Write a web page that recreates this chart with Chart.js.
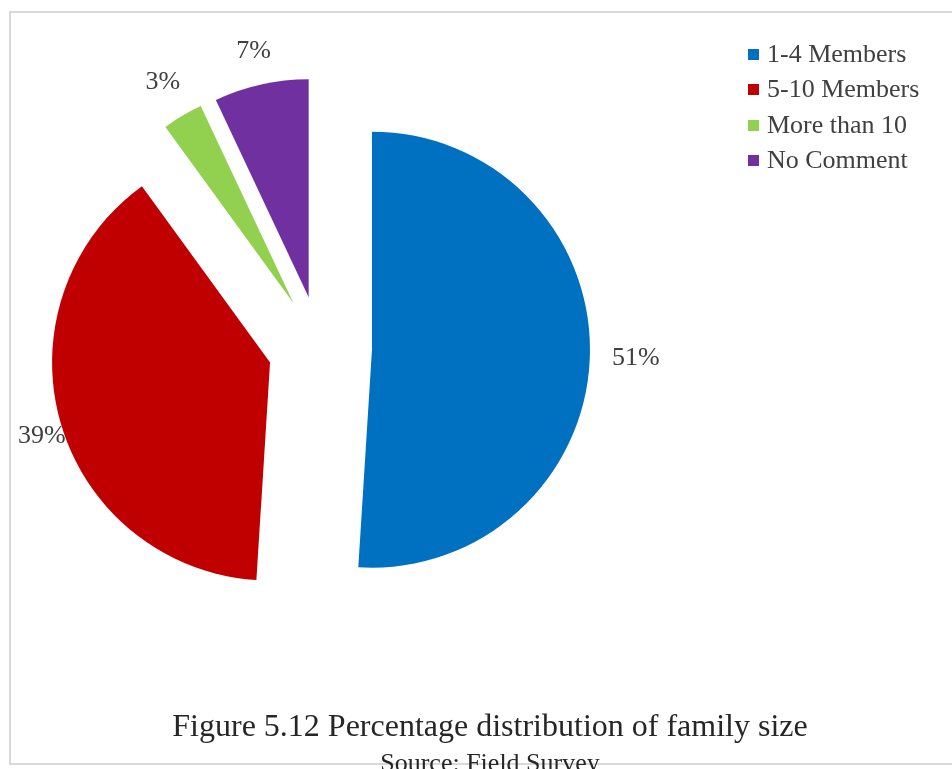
<!DOCTYPE html>
<html>
<head>
<meta charset="utf-8">
<title>Family size</title>
<script src="https://cdn.jsdelivr.net/npm/chart.js@4/dist/chart.umd.min.js"></script>
<style>
    html, body { margin: 0; padding: 0; background: #fff; overflow: hidden; }
    .page { position: relative; width: 952px; height: 769px; }
    .frame {
        position: absolute; left: 9px; top: 11px; width: 1000px; height: 754px;
        box-sizing: border-box; border: 2px solid #d9d9d9;
    }
    #familyPie { position: absolute; left: 0; top: 0; }
    .legend {
        position: absolute; left: 748px; top: 36px; margin: 0; padding: 0; list-style: none;
        font-family: 'Liberation Serif', 'Times New Roman', serif; font-size: 26px;
        line-height: 35.3px; color: #404040; white-space: nowrap;
    }
    .legend .swatch {
        display: inline-block; width: 11px; height: 11px; margin-right: 8px; vertical-align: 2px;
    }
    .caption {
        position: absolute; left: 0; width: 980px; margin: 0; text-align: center;
        font-family: 'Liberation Serif', 'Times New Roman', serif; color: #262626;
    }
    .caption.title { top: 709px; font-size: 32px; line-height: 32px; }
    .caption.source { top: 750px; font-size: 26px; line-height: 26px; }
</style>
</head>
<body>
<div class="page">
    <div class="frame"></div>
    <canvas id="familyPie" width="952" height="769"></canvas>
    <ul class="legend" id="pieLegend"></ul>
    <p class="caption title">Figure 5.12 Percentage distribution of family size</p>
    <p class="caption source">Source: Field Survey</p>
</div>
<script>
// Family size groups and their share of households (%)
const categories = ['1-4 Members', '5-10 Members', 'More than 10', 'No Comment'];
const shares = [51, 39, 3, 7];
const sliceColors = ['#0070C0', '#C00000', '#92D050', '#7030A0'];

const sliceRadius = 218; // px
const explode = 52;      // px every slice is pulled out from the centre
const labelGap = 22;     // px between slice edge and its percentage
const labelMinX = 18;    // labels are kept inside the chart frame

// Chart.js v4 only moves an offset arc by offset/4 and grows its radius,
// so exploded slices are drawn here: full shift, same radius for all
class ExplodedArc extends Chart.ArcElement {
    static id = 'explodedArc';

    draw(ctx) {
        const { x, y, startAngle, endAngle, outerRadius } = this;
        const mid = (startAngle + endAngle) / 2;
        const shift = this.options.offset || 0;
        const cx = x + Math.cos(mid) * shift;
        const cy = y + Math.sin(mid) * shift;
        ctx.save();
        ctx.fillStyle = this.options.backgroundColor;
        ctx.beginPath();
        ctx.moveTo(cx, cy);
        ctx.arc(cx, cy, outerRadius, startAngle, endAngle);
        ctx.closePath();
        ctx.fill();
        ctx.restore();
    }
}
Chart.register(ExplodedArc);
Chart.defaults.datasets.pie.dataElementType = 'explodedArc';

// Percentage labels just outside each slice
const pieLabels = {
    id: 'pieLabels',
    afterDatasetsDraw(chart) {
        const { ctx } = chart;
        const meta = chart.getDatasetMeta(0);
        ctx.save();
        ctx.font = "26px 'Liberation Serif', serif";
        ctx.fillStyle = '#404040';
        ctx.textAlign = 'center';
        ctx.textBaseline = 'middle';
        meta.data.forEach((arc, i) => {
            const text = shares[i] + '%';
            const mid = (arc.startAngle + arc.endAngle) / 2;
            const dx = Math.cos(mid);
            const dy = Math.sin(mid);
            const w = ctx.measureText(text).width;
            const h = 18;
            const dist = arc.outerRadius + (arc.options.offset || 0) + labelGap
                + Math.abs(dx) * w / 2 + Math.abs(dy) * h / 2;
            const lx = Math.max(arc.x + dx * dist, labelMinX + w / 2);
            ctx.fillText(text, lx, arc.y + dy * dist);
        });
        ctx.restore();
    }
};

const chart = new Chart(document.getElementById('familyPie'), {
    type: 'pie',
    data: {
        labels: categories,
        datasets: [{
            data: shares,
            backgroundColor: sliceColors,
            borderWidth: 0,
            offset: explode,
            radius: sliceRadius
        }]
    },
    options: {
        responsive: false,
        animation: false,
        layout: { padding: { right: 312, bottom: 73 } },
        plugins: {
            legend: { display: false },
            tooltip: { enabled: false }
        }
    },
    plugins: [pieLabels]
});

// Legend list beside the pie
const legendList = document.getElementById('pieLegend');
categories.forEach((name, i) => {
    const li = document.createElement('li');
    const swatch = document.createElement('span');
    swatch.className = 'swatch';
    swatch.style.background = sliceColors[i];
    li.appendChild(swatch);
    li.appendChild(document.createTextNode(name));
    legendList.appendChild(li);
});
</script>
</body>
</html>
